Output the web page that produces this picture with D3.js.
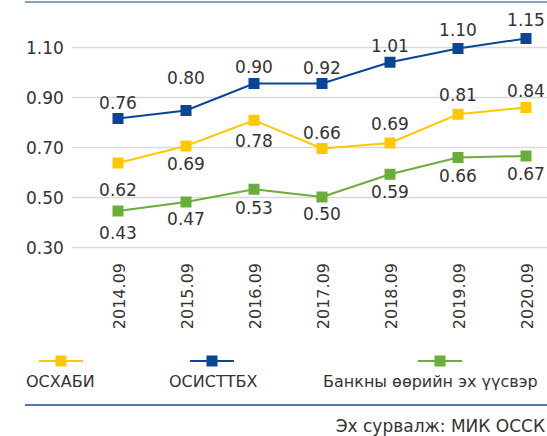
<!DOCTYPE html>
<html>
<head>
<meta charset="utf-8">
<script src="https://cdn.jsdelivr.net/npm/d3@7"></script>
<style>
  html, body { margin: 0; padding: 0; background: #fff; }
  svg { display: block; }
  text { font-family: "DejaVu Sans", sans-serif; fill: #333; }
</style>
</head>
<body>
<svg id="chart" width="547" height="436"></svg>
<script>
// ---- data ----
const categories = ["2014.09", "2015.09", "2016.09", "2017.09", "2018.09", "2019.09", "2020.09"];
const seriesNames = ["ОСХАБИ", "ОСИСТТБХ", "Банкны өөрийн эх үүсвэр"];
// plotted positions of the markers
const osxabiValues  = [0.638, 0.706, 0.809, 0.696, 0.718, 0.833, 0.860];
const osisttbxValues = [0.816, 0.848, 0.956, 0.956, 1.041, 1.096, 1.136];
const bankValues    = [0.446, 0.482, 0.533, 0.502, 0.593, 0.660, 0.666];
// data labels shown on the chart
const osxabiLabels  = ["0.62", "0.69", "0.78", "0.66", "0.69", "0.81", "0.84"];
const osisttbxLabels = ["0.76", "0.80", "0.90", "0.92", "1.01", "1.10", "1.15"];
const bankLabels    = ["0.43", "0.47", "0.53", "0.50", "0.59", "0.66", "0.67"];
const yTicks = [0.30, 0.50, 0.70, 0.90, 1.10];
const sourceText = "Эх сурвалж: МИК ОССК";

// ---- layout / style ----
const colors = ["#ffc800", "#0b4596", "#6aad3b"];
const labelDy = [
  [33, 24, 27, -10, -13, -13, -11],
  [-10, -27, -11, -10, -10, -13, -13],
  [28, 23, 25, 23, 24, 24, 24]
];
const legendSymbolX = [61, 212, 440];
const legendTextX = [26, 169, 323];

const series = [
  { name: seriesNames[0], values: osxabiValues, labels: osxabiLabels },
  { name: seriesNames[1], values: osisttbxValues, labels: osisttbxLabels },
  { name: seriesNames[2], values: bankValues, labels: bankLabels }
];

const svg = d3.select("#chart");

const x = d3.scalePoint().domain(categories).range([118, 526]);
const y = d3.scaleLinear().domain([0.30, 1.10]).range([247.5, 47.5]);

// top rule
svg.append("line").attr("x1", 25).attr("x2", 547).attr("y1", 2).attr("y2", 2)
  .attr("stroke", "#7ea2cc").attr("stroke-width", 2);

// gridlines
svg.append("g").selectAll("line").data(yTicks).join("line")
  .attr("x1", 72).attr("x2", 547)
  .attr("y1", d => y(d)).attr("y2", d => y(d))
  .attr("stroke", "#d9d9d9").attr("stroke-width", 1.5);

// y tick labels
svg.append("g").selectAll("text").data(yTicks).join("text")
  .attr("x", 26).attr("y", d => y(d)).attr("dy", "0.36em")
  .attr("font-size", 17)
  .text(d => d3.format(".2f")(d));

// x tick labels (rotated)
svg.append("g").selectAll("text").data(categories).join("text")
  .attr("transform", d => `translate(${x(d) + 7},263) rotate(-90)`)
  .attr("text-anchor", "end")
  .attr("font-size", 16)
  .text(d => d);

// lines
const line = d3.line().x((d, i) => x(categories[i])).y(d => y(d));
series.forEach((s, si) => {
  svg.append("path").datum(s.values)
    .attr("d", line).attr("fill", "none")
    .attr("stroke", colors[si]).attr("stroke-width", 2);
});

// markers
const ms = 11;
series.forEach((s, si) => {
  svg.append("g").selectAll("rect").data(s.values).join("rect")
    .attr("x", (d, i) => x(categories[i]) - ms / 2)
    .attr("y", d => y(d) - ms / 2)
    .attr("width", ms).attr("height", ms)
    .attr("fill", colors[si]);
});

// data labels
series.forEach((s, si) => {
  svg.append("g").selectAll("text").data(s.labels).join("text")
    .attr("x", (d, i) => x(categories[i]))
    .attr("y", (d, i) => y(s.values[i]) + labelDy[si][i])
    .attr("text-anchor", "middle")
    .attr("font-size", 17)
    .text(d => d);
});

// legend
const legend = svg.append("g").selectAll("g").data(series).join("g");
legend.append("line")
  .attr("x1", (d, i) => legendSymbolX[i] - 22).attr("x2", (d, i) => legendSymbolX[i] + 22)
  .attr("y1", 361).attr("y2", 361)
  .attr("stroke", (d, i) => colors[i]).attr("stroke-width", 2);
legend.append("rect")
  .attr("x", (d, i) => legendSymbolX[i] - 5.5).attr("y", 361 - 5.5)
  .attr("width", 11).attr("height", 11)
  .attr("fill", (d, i) => colors[i]);
legend.append("text")
  .attr("x", (d, i) => legendTextX[i]).attr("y", 387)
  .attr("font-size", 16)
  .text(d => d.name);

// bottom rule
svg.append("line").attr("x1", 25).attr("x2", 547).attr("y1", 405).attr("y2", 405)
  .attr("stroke", "#4a78b8").attr("stroke-width", 2);

// source
svg.append("text").attr("x", 545).attr("y", 432)
  .attr("text-anchor", "end").attr("font-size", 17)
  .text(sourceText);
</script>
</body>
</html>
